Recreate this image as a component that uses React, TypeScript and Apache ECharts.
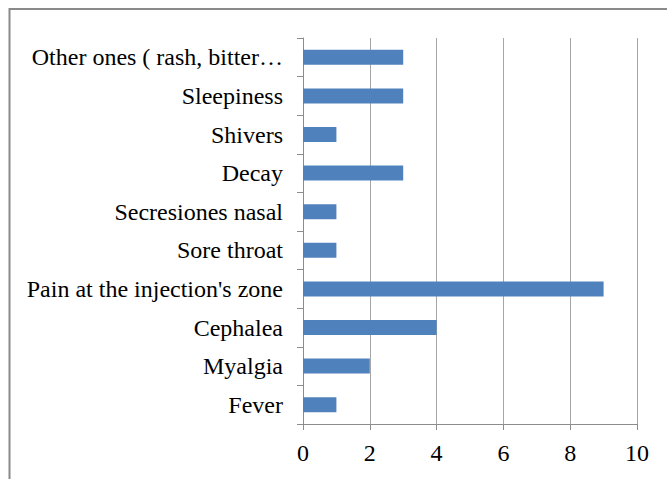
import React, { useEffect, useRef } from "react";
import * as echarts from "echarts";

const categories = [
  "Fever",
  "Myalgia",
  "Cephalea",
  "Pain at the injection's zone",
  "Sore throat",
  "Secresiones nasal",
  "Decay",
  "Shivers",
  "Sleepiness",
  "Other ones ( rash, bitter…",
];
const values = [1, 2, 4, 9, 1, 1, 3, 1, 3, 3];
const xTicks = [0, 2, 4, 6, 8, 10];

export default function App() {
  const ref = useRef<HTMLDivElement>(null);
  useEffect(() => {
    if (!ref.current) return;
    const chart = echarts.init(ref.current, null, { renderer: "svg" });
    const font = "'Liberation Serif', 'Times New Roman', serif";
    chart.setOption({
      animation: false,
      backgroundColor: "#ffffff",
      grid: { left: 303, right: 30, top: 38, bottom: 55, containLabel: false },
      xAxis: {
        type: "value",
        min: xTicks[0],
        max: xTicks[xTicks.length - 1],
        interval: 2,
        axisLine: { show: true, lineStyle: { color: "#8c8c8c", width: 1 } },
        axisTick: { show: true, length: 6, lineStyle: { color: "#8c8c8c" } },
        splitLine: { show: true, lineStyle: { color: "#a6a6a6", width: 1 } },
        axisLabel: { color: "#000", fontFamily: font, fontSize: 24, margin: 17 },
      },
      yAxis: {
        type: "category",
        data: categories,
        axisLine: { show: true, lineStyle: { color: "#8c8c8c", width: 1 } },
        axisTick: { show: true, length: 6, lineStyle: { color: "#8c8c8c" } },
        splitLine: { show: false },
        axisLabel: { color: "#000", fontFamily: font, fontSize: 24, margin: 20 },
      },
      series: [
        {
          type: "bar",
          data: values,
          barWidth: 15,
          itemStyle: { color: "#4F81BD" },
        },
      ],
      graphic: [
        {
          type: "rect",
          shape: { x: 9.5, y: 9, width: 700, height: 520 },
          style: { fill: "none", stroke: "#8a8a8a", lineWidth: 2 },
          silent: true,
        },
      ],
    });
    return () => chart.dispose();
  }, []);
  return (
    <div
      ref={ref}
      style={{ position: "fixed", left: 0, top: 0, width: 667, height: 479 }}
    />
  );
}
